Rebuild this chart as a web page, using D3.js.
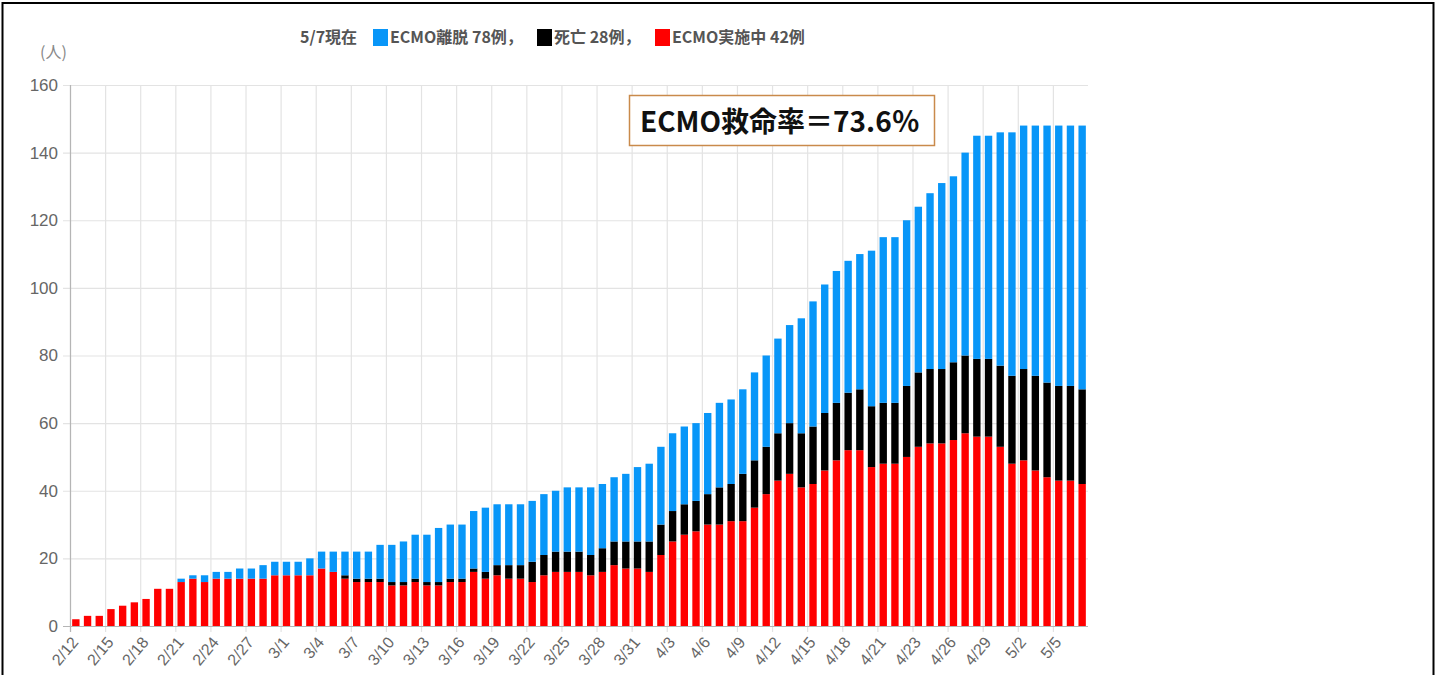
<!DOCTYPE html>
<html>
<head>
<meta charset="utf-8">
<script src="https://cdn.jsdelivr.net/npm/d3@7"></script>
<style>
  body { margin: 0; background: #fff; }
  svg { display: block; }
</style>
</head>
<body>
<div id="chart"></div>
<script>
// categories (4/22 appears twice in the source data)
let dates = [
    "2/12", "2/13", "2/14", "2/15", "2/16", "2/17", "2/18", "2/19", "2/20", "2/21",
    "2/22", "2/23", "2/24", "2/25", "2/26", "2/27", "2/28", "2/29", "3/1", "3/2",
    "3/3", "3/4", "3/5", "3/6", "3/7", "3/8", "3/9", "3/10", "3/11", "3/12",
    "3/13", "3/14", "3/15", "3/16", "3/17", "3/18", "3/19", "3/20", "3/21", "3/22",
    "3/23", "3/24", "3/25", "3/26", "3/27", "3/28", "3/29", "3/30", "3/31", "4/1",
    "4/2", "4/3", "4/4", "4/5", "4/6", "4/7", "4/8", "4/9", "4/10", "4/11",
    "4/12", "4/13", "4/14", "4/15", "4/16", "4/17", "4/18", "4/19", "4/20", "4/21",
    "4/22", "4/22", "4/23", "4/24", "4/25", "4/26", "4/27", "4/28", "4/29", "4/30",
    "5/1", "5/2", "5/3", "5/4", "5/5", "5/6", "5/7"
];
// ECMO実施中
let ongoing = [
    2, 3, 3, 5, 6, 7, 8, 11, 11, 13,
    14, 13, 14, 14, 14, 14, 14, 15, 15, 15,
    15, 17, 16, 14, 13, 13, 13, 12, 12, 13,
    12, 12, 13, 13, 16, 14, 15, 14, 14, 13,
    15, 16, 16, 16, 15, 16, 18, 17, 17, 16,
    21, 25, 27, 28, 30, 30, 31, 31, 35, 39,
    43, 45, 41, 42, 46, 49, 52, 52, 47, 48,
    48, 50, 53, 54, 54, 55, 57, 56, 56, 53,
    48, 49, 46, 44, 43, 43, 42
];
// 死亡
let deaths = [
    0, 0, 0, 0, 0, 0, 0, 0, 0, 0,
    0, 0, 0, 0, 0, 0, 0, 0, 0, 0,
    0, 0, 0, 1, 1, 1, 1, 1, 1, 1,
    1, 1, 1, 1, 1, 2, 3, 4, 4, 6,
    6, 6, 6, 6, 6, 7, 7, 8, 8, 9,
    9, 9, 9, 9, 9, 11, 11, 14, 14, 14,
    14, 15, 16, 17, 17, 17, 17, 18, 18, 18,
    18, 21, 22, 22, 22, 23, 23, 23, 23, 24,
    26, 27, 28, 28, 28, 28, 28
];
// ECMO離脱
let weaned = [
    0, 0, 0, 0, 0, 0, 0, 0, 0, 1,
    1, 2, 2, 2, 3, 3, 4, 4, 4, 4,
    5, 5, 6, 7, 8, 8, 10, 11, 12, 13,
    14, 16, 16, 16, 17, 19, 18, 18, 18, 18,
    18, 18, 19, 19, 20, 19, 19, 20, 22, 23,
    23, 23, 23, 23, 24, 25, 25, 25, 26, 27,
    28, 29, 34, 37, 38, 39, 39, 40, 46, 49,
    49, 49, 49, 52, 55, 55, 60, 66, 66, 69,
    72, 72, 74, 76, 77, 77, 78
];
let yTicks = [0, 20, 40, 60, 80, 100, 120, 140, 160];
let seriesKeys = ["ongoing", "deaths", "weaned"];
let seriesColors = { ongoing: "#ff0000", deaths: "#000000", weaned: "#0896f8" };
let legendItems = [
    { key: "weaned", label: "ECMO離脱 78例，" },
    { key: "deaths", label: "死亡 28例，" },
    { key: "ongoing", label: "ECMO実施中 42例" }
];

let width = 1437;
let height = 675;
let margin = ({ top: 85, right: 349, bottom: 49, left: 70 });
let labelFont = "'Liberation Sans', Arial, sans-serif";
let cjkFont = "'Noto Sans CJK JP', 'Noto Sans', sans-serif";

let table = dates.map((d, i) => ({
    i: i, date: d, ongoing: ongoing[i], deaths: deaths[i], weaned: weaned[i]
}));

let x = d3.scaleBand()
    .domain(d3.range(dates.length))
    .range([margin.left, width - margin.right])
    .paddingInner(0.37)
    .paddingOuter(0.185);
let y = d3.scaleLinear()
    .domain([0, 160])
    .range([height - margin.bottom, margin.top]);

let stacked = d3.stack().keys(seriesKeys)(table);

const svg = d3.select("#chart").append("svg")
    .attr("width", width)
    .attr("height", height);

svg.append("rect")
    .attr("width", width).attr("height", height).attr("fill", "#fff");

// frame around the slide
svg.append("path")
    .attr("d", `M2.5,${height} V3 H1433.5 V${height}`)
    .attr("fill", "none")
    .attr("stroke", "#000")
    .attr("stroke-width", 2);

let gridX = i => x(i) - x.step() * x.paddingOuter();
let labelIdx = d3.range(0, dates.length, 3);

// horizontal grid + y ticks
svg.append("g")
    .selectAll("line")
    .data(yTicks)
    .join("line")
    .attr("x1", margin.left - 7)
    .attr("x2", width - margin.right)
    .attr("y1", d => y(d) + 0.5)
    .attr("y2", d => y(d) + 0.5)
    .attr("stroke", "#e3e3e3")
    .attr("stroke-width", 1.2);

// vertical grid every 3rd category
svg.append("g")
    .selectAll("line")
    .data(labelIdx)
    .join("line")
    .attr("x1", d => gridX(d) + 0.5)
    .attr("x2", d => gridX(d) + 0.5)
    .attr("y1", margin.top)
    .attr("y2", height - margin.bottom + 6)
    .attr("stroke", "#e3e3e3")
    .attr("stroke-width", 1.2);

// axis lines
svg.append("line")
    .attr("x1", margin.left + 0.5).attr("x2", margin.left + 0.5)
    .attr("y1", margin.top).attr("y2", height - margin.bottom + 6)
    .attr("stroke", "#b5b5b5").attr("stroke-width", 1.2);
svg.append("line")
    .attr("x1", margin.left - 7).attr("x2", width - margin.right)
    .attr("y1", y(0) + 0.5).attr("y2", y(0) + 0.5)
    .attr("stroke", "#b5b5b5").attr("stroke-width", 1.2);

// bars
svg.append("g")
    .selectAll("g")
    .data(stacked)
    .join("g")
    .attr("fill", d => seriesColors[d.key])
    .selectAll("rect")
    .data(d => d)
    .join("rect")
    .attr("x", d => x(d.data.i))
    .attr("width", x.bandwidth())
    .attr("y", d => y(d[1]))
    .attr("height", d => y(d[0]) - y(d[1]));

// y labels
svg.append("g")
    .selectAll("text")
    .data(yTicks)
    .join("text")
    .attr("x", margin.left - 12)
    .attr("y", d => y(d))
    .attr("dy", "0.35em")
    .attr("text-anchor", "end")
    .attr("font-family", labelFont)
    .attr("font-size", 17)
    .attr("fill", "#666")
    .text(d => d);

svg.append("text")
    .attr("x", 40)
    .attr("y", 58)
    .attr("font-family", cjkFont)
    .attr("font-size", 16)
    .attr("fill", "#888")
    .text("(人)");

// x labels
svg.append("g")
    .selectAll("text")
    .data(labelIdx)
    .join("text")
    .attr("transform", d => `translate(${gridX(d) + 5},${height - margin.bottom + 13}) rotate(-50)`)
    .attr("text-anchor", "end")
    .attr("dy", "0.35em")
    .attr("font-family", labelFont)
    .attr("font-size", 16)
    .attr("fill", "#666")
    .text(d => dates[d]);

// legend line
let legend = svg.append("g")
    .attr("font-family", cjkFont)
    .attr("font-size", 16)
    .attr("font-weight", "bold")
    .attr("fill", "#555");
legend.append("text")
    .attr("x", 300).attr("y", 43)
    .text("5/7現在");
let legendX = [373, 537, 655];
legendItems.forEach((item, k) => {
    legend.append("rect")
        .attr("x", legendX[k]).attr("y", 29)
        .attr("width", 15).attr("height", 17)
        .attr("fill", seriesColors[item.key]);
    legend.append("text")
        .attr("x", legendX[k] + 17).attr("y", 43)
        .text(item.label);
});

// survival rate box
svg.append("rect")
    .attr("x", 629.5).attr("y", 95.5)
    .attr("width", 305).attr("height", 50)
    .attr("fill", "#fff")
    .attr("stroke", "#c98a4b")
    .attr("stroke-width", 1.5);
svg.append("text")
    .attr("x", 640).attr("y", 132)
    .attr("font-family", cjkFont)
    .attr("font-size", 28)
    .attr("font-weight", "bold")
    .attr("fill", "#111")
    .text("ECMO救命率＝73.6％");
</script>
</body>
</html>
